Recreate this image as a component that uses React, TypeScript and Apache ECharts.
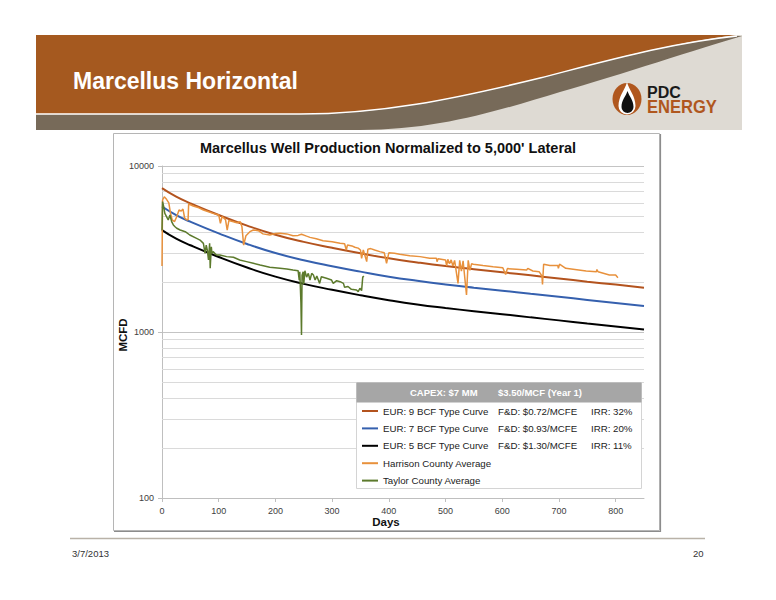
import React, { useEffect, useRef } from "react";
import * as echarts from "echarts";

// ---------- data ----------
const typeCurveDays = [0, 25, 50, 100, 150, 200, 250, 300, 350, 400, 450, 500, 550, 600, 650, 700, 750, 800, 850];
const eur9 = [7350, 6530, 5960, 5070, 4375, 3855, 3490, 3215, 2980, 2780, 2625, 2495, 2390, 2290, 2195, 2100, 2010, 1930, 1850];
const eur7 = [5700, 5060, 4620, 3930, 3390, 2990, 2705, 2490, 2310, 2155, 2035, 1935, 1850, 1775, 1700, 1630, 1560, 1495, 1435];
const eur5 = [4110, 3650, 3330, 2830, 2445, 2155, 1950, 1795, 1665, 1555, 1465, 1395, 1335, 1280, 1225, 1175, 1125, 1080, 1035];

const harrisonDays = [0, 1, 4, 8, 12, 15, 18, 22, 26, 30, 34, 37, 40, 44, 46, 47, 55, 65, 73, 82, 90, 100, 103, 106, 112, 115, 118, 126, 132, 138, 141, 144, 148, 155, 161, 170, 178, 190, 200, 208, 220, 231, 240, 246, 255, 261, 272, 284, 300, 314, 322, 325, 327, 335, 340, 346, 350, 352, 355, 361, 363, 368, 375, 384, 392, 396, 400, 410, 419, 437, 455, 472, 484, 485, 487, 500, 502, 504, 507, 510, 513, 516, 522, 525, 528, 531, 537, 540, 543, 546, 549, 566, 584, 601, 606, 609, 625, 643, 645, 654, 665, 670, 671, 673, 684, 698, 699, 701, 712, 725, 748, 766, 767, 769, 789, 800, 804];
const harrisonMcfd = [2500, 6240, 6530, 6300, 6000, 5200, 4730, 4620, 4950, 5430, 5350, 5500, 4850, 4730, 4750, 5905, 5740, 5600, 5430, 5300, 5185, 5070, 4520, 4960, 4750, 4115, 4700, 4620, 4550, 4620, 4300, 3340, 3800, 4020, 4115, 4080, 3900, 3840, 3920, 3935, 3900, 3800, 3820, 3880, 3780, 3715, 3650, 3545, 3500, 3420, 3400, 3118, 3340, 3300, 3240, 3200, 3118, 2780, 3118, 2655, 3150, 3180, 3120, 3050, 3000, 2595, 3000, 2980, 2940, 2883, 2845, 2780, 2780, 2655, 2760, 2717, 2500, 2740, 2580, 2720, 2500, 2700, 1963, 2700, 2330, 2680, 1671, 2700, 2350, 2580, 2560, 2512, 2474, 2440, 2220, 2410, 2387, 2360, 2420, 2330, 2310, 2180, 1936, 2560, 2512, 2512, 2420, 2560, 2420, 2387, 2330, 2307, 2380, 2307, 2203, 2203, 2123];

const taylorDays = [0, 1, 3, 5, 8, 11, 14, 17, 20, 23, 26, 32, 41, 49, 61, 67, 73, 76, 78, 80, 82, 84, 85, 87, 88, 90, 96, 102, 114, 126, 137, 149, 161, 173, 190, 208, 220, 231, 240, 242, 243, 245, 246, 247, 249, 250, 252, 255, 258, 261, 264, 267, 270, 273, 278, 281, 290, 299, 302, 308, 314, 320, 322, 328, 334, 343, 346, 349, 352, 354, 356];
const taylorMcfd = [4100, 6100, 5690, 5185, 4955, 4730, 5070, 4620, 4415, 4310, 4215, 4115, 4020, 3840, 3665, 3580, 3420, 2980, 3340, 3100, 2717, 3420, 2420, 3265, 2980, 3050, 2910, 2910, 2845, 2820, 2717, 2655, 2595, 2535, 2455, 2420, 2397, 2360, 2340, 2050, 2307, 1500, 960, 2200, 2307, 1950, 2340, 2140, 2254, 2056, 2254, 2203, 2056, 2172, 1963, 2153, 2107, 2056, 1963, 2037, 2010, 1963, 1858, 1880, 1808, 1791, 1750, 1834, 1775, 2140, 2172];

const xTicks = [0, 100, 200, 300, 400, 500, 600, 700, 800];
const yMinorGrid = [200, 300, 400, 500, 600, 700, 800, 900, 2000, 3000, 4000, 5000, 6000, 7000, 8000, 9000];

const legendNames = [
  "EUR: 9 BCF Type Curve",
  "EUR: 7 BCF Type Curve",
  "EUR: 5 BCF Type Curve",
  "Harrison County Average",
  "Taylor County Average",
];
const legendFD = ["F&D: $0.72/MCFE", "F&D: $0.93/MCFE", "F&D: $1.30/MCFE", "", ""];
const legendIRR = ["IRR: 32%", "IRR: 20%", "IRR: 11%", "", ""];
const headerCapex = "CAPEX: $7 MM";
const headerPrice = "$3.50/MCF (Year 1)";

const slideTitle = "Marcellus Horizontal";
const chartTitle = "Marcellus Well Production Normalized to 5,000' Lateral";
const xAxisName = "Days";
const yAxisName = "MCFD";
const footerDate = "3/7/2013";
const footerPage = "20";

// ---------- styles ----------
const FONT = "Liberation Sans, Arial, Helvetica, sans-serif";
const C9 = "#B3531E";
const C7 = "#3560AE";
const C5 = "#000000";
const CH = "#E8913C";
const CT = "#5C7A2C";
const seriesColors = [C9, C7, C5, CH, CT];

// ---------- banner shapes ----------
const BROWN_D = "M36,35 H737 C670,43 610,60 540,78 C450,100 380,114 300,114 H36 Z";
const SWOOSH_D = "M36,114 H300 C380,114 450,100 540,78 C610,60 670,43 737,36 L742,36 C700,48 620,75 560,92 C500,110 440,130 360,130 H36 Z";
const EDGE_D = "M36,114 H300 C380,114 450,100 540,78 C610,60 670,43 737,36";
const WDROP_D = "M0,0 C2,8 8.5,14 8.5,24 A8.5,8.5 0 0 1 -8.5,24 C-8.5,14 -2,8 0,0 Z";
const BDROP_D = "M0,0 C1.5,5 6,9 6,16 A6,6 0 0 1 -6,16 C-6,9 -1.5,5 0,0 Z";

echarts.graphic.registerShape("bannerBrown", echarts.graphic.extendPath(BROWN_D, {}));
echarts.graphic.registerShape("bannerSwoosh", echarts.graphic.extendPath(SWOOSH_D, {}));
echarts.graphic.registerShape("bannerEdge", echarts.graphic.extendPath(EDGE_D, {}));
echarts.graphic.registerShape("dropWhite", echarts.graphic.extendPath(WDROP_D, {}));
echarts.graphic.registerShape("dropBlack", echarts.graphic.extendPath(BDROP_D, {}));

const pairs = (xs: number[], ys: number[]) => xs.map((x, i) => [x, ys[i]]);

function buildOption(): any {
  const curveSeries = (i: number, days: number[], vals: number[], smooth: boolean, width: number, extra: any = {}) => ({
    name: legendNames[i],
    type: "line",
    data: pairs(days, vals),
    smooth,
    symbol: "none",
    showSymbol: false,
    lineStyle: { color: seriesColors[i], width },
    itemStyle: { color: seriesColors[i] },
    emphasis: { disabled: true },
    z: 3,
    ...extra,
  });

  return {
    animation: false,
    backgroundColor: "#ffffff",
    title: {
      text: chartTitle,
      left: "center",
      top: 135,
      textStyle: { fontFamily: FONT, fontSize: 14.5, fontWeight: "bold", color: "#111111" },
    },
    grid: { left: 162, top: 166, width: 482, height: 332 },
    xAxis: {
      type: "value",
      min: 0,
      max: 850,
      axisLine: { show: true, lineStyle: { color: "#BFBFBF", width: 1 } },
      axisTick: { show: true, customValues: xTicks, length: 4, lineStyle: { color: "#BFBFBF" } },
      axisLabel: { customValues: xTicks, fontFamily: FONT, fontSize: 9, color: "#404040", margin: 8 },
      splitLine: { show: false },
    },
    yAxis: {
      type: "log",
      logBase: 10,
      min: 100,
      max: 10000,
      axisLine: { show: true, lineStyle: { color: "#BFBFBF", width: 1 } },
      axisTick: { show: true, length: 4, lineStyle: { color: "#BFBFBF" } },
      axisLabel: {
        fontFamily: FONT,
        fontSize: 9,
        color: "#404040",
        margin: 8,
        formatter: (v: number) => String(Math.round(v)),
      },
      splitLine: { show: true, lineStyle: { color: "#C4C4C4", width: 1 } },
    },
    legend: {
      orient: "vertical",
      left: 356,
      top: 382,
      padding: [22, 4, 1, 6],
      itemGap: 3.4,
      itemWidth: 16,
      itemHeight: 2,
      icon: "rect",
      selectedMode: false,
      z: 6,
      data: legendNames,
      textStyle: {
        fontFamily: FONT,
        fontSize: 9.7,
        color: "#222222",
        lineHeight: 14,
        rich: {
          a: { width: 115, fontFamily: FONT, fontSize: 9.7, color: "#222222", lineHeight: 14 },
          b: { width: 93, fontFamily: FONT, fontSize: 9.7, color: "#222222", lineHeight: 14 },
          c: { width: 46, fontFamily: FONT, fontSize: 9.7, color: "#222222", lineHeight: 14 },
        },
      },
      formatter: (name: string) => {
        const i = legendNames.indexOf(name);
        return legendFD[i] ? `{a|${name}}{b|${legendFD[i]}}{c|${legendIRR[i]}}` : `{a|${name}}`;
      },
    },
    series: [
      curveSeries(0, typeCurveDays, eur9, true, 2, {
        markLine: {
          z: 1,
          silent: true,
          animation: false,
          symbol: ["none", "none"],
          label: { show: false },
          emphasis: { disabled: true },
          lineStyle: { color: "#DADADA", width: 1, type: "solid" },
          data: yMinorGrid.map((v) => ({ yAxis: v })),
        },
      }),
      curveSeries(1, typeCurveDays, eur7, true, 2),
      curveSeries(2, typeCurveDays, eur5, true, 2),
      curveSeries(3, harrisonDays, harrisonMcfd, false, 1.5),
      curveSeries(4, taylorDays, taylorMcfd, false, 1.5),
    ],
    graphic: [
      // banner
      { type: "rect", z: 0, silent: true, shape: { x: 36, y: 35, width: 706, height: 95 }, style: { fill: "#DEDAD3" } },
      { type: "bannerBrown", z: 1, silent: true, style: { fill: "#A5591F" } },
      { type: "bannerSwoosh", z: 1, silent: true, style: { fill: "#776A59" } },
      { type: "bannerEdge", z: 2, silent: true, style: { fill: "none", stroke: "#FFFFFF", lineWidth: 1.5 } },
      {
        type: "text", z: 3, silent: true, x: 73, y: 81,
        style: { text: slideTitle, fill: "#FFFFFF", font: `bold 23px ${FONT}`, verticalAlign: "middle" },
      },
      // logo
      { type: "ellipse", z: 3, silent: true, shape: { cx: 627, cy: 99, rx: 14.5, ry: 16 }, style: { fill: "#B0571E" } },
      { type: "dropWhite", z: 4, silent: true, x: 627, y: 82, style: { fill: "#FFFFFF" } },
      { type: "dropBlack", z: 5, silent: true, x: 627.5, y: 91, style: { fill: "#111111" } },
      {
        type: "text", z: 5, silent: true, x: 647, y: 92,
        style: { text: "PDC", fill: "#1A1A1A", font: `bold 16px ${FONT}`, verticalAlign: "middle" },
      },
      {
        type: "text", z: 5, silent: true, x: 647, y: 106.5, scaleX: 0.92,
        style: { text: "ENERGY", fill: "#B0571E", font: `bold 18px ${FONT}`, verticalAlign: "middle" },
      },
      // chart frame
      { type: "rect", z: 0, silent: true, shape: { x: 113.5, y: 133.5, width: 546, height: 397 }, style: { fill: "none", stroke: "#B5B5B5", lineWidth: 1 } },
      { type: "line", z: 0, silent: true, shape: { x1: 660.5, y1: 134, x2: 660.5, y2: 532 }, style: { stroke: "#8C8C8C", lineWidth: 1.2 } },
      { type: "line", z: 0, silent: true, shape: { x1: 114, y1: 531.5, x2: 661, y2: 531.5 }, style: { stroke: "#8C8C8C", lineWidth: 1.2 } },
      // axis names
      {
        type: "text", z: 5, silent: true, x: 123, y: 335, rotation: Math.PI / 2,
        style: { text: yAxisName, fill: "#111111", font: `bold 11.5px ${FONT}`, align: "center", verticalAlign: "middle" },
      },
      {
        type: "text", z: 5, silent: true, x: 386, y: 522,
        style: { text: xAxisName, fill: "#111111", font: `bold 11.5px ${FONT}`, align: "center", verticalAlign: "middle" },
      },
      // legend box
      { type: "rect", z: 4, silent: true, shape: { x: 356.5, y: 382.5, width: 285, height: 106 }, style: { fill: "#FFFFFF", stroke: "#D4D4D4", lineWidth: 1 } },
      { type: "rect", z: 5, silent: true, shape: { x: 356.5, y: 382.5, width: 285, height: 20 }, style: { fill: "#A6A6A6" } },
      {
        type: "text", z: 7, silent: true, x: 410, y: 392.5,
        style: { text: headerCapex, fill: "#FFFFFF", font: `bold 9.5px ${FONT}`, verticalAlign: "middle" },
      },
      {
        type: "text", z: 7, silent: true, x: 498, y: 392.5,
        style: { text: headerPrice, fill: "#FFFFFF", font: `bold 9.5px ${FONT}`, verticalAlign: "middle" },
      },
      // footer
      { type: "line", z: 0, silent: true, shape: { x1: 70, y1: 538.5, x2: 705, y2: 538.5 }, style: { stroke: "#B9B2A8", lineWidth: 1.5 } },
      {
        type: "text", z: 1, silent: true, x: 72, y: 553.5,
        style: { text: footerDate, fill: "#333333", font: `9.5px ${FONT}`, verticalAlign: "middle" },
      },
      {
        type: "text", z: 1, silent: true, x: 703.5, y: 553.5,
        style: { text: footerPage, fill: "#333333", font: `9.5px ${FONT}`, verticalAlign: "middle", align: "right" },
      },
    ],
  };
}

export default function App() {
  const ref = useRef<HTMLDivElement>(null);
  useEffect(() => {
    if (!ref.current) return;
    const chart = echarts.init(ref.current, null, { renderer: "svg" });
    chart.setOption(buildOption());
    return () => chart.dispose();
  }, []);
  return <div ref={ref} style={{ position: "fixed", left: 0, top: 0, width: 776, height: 600, background: "#fff" }} />;
}
